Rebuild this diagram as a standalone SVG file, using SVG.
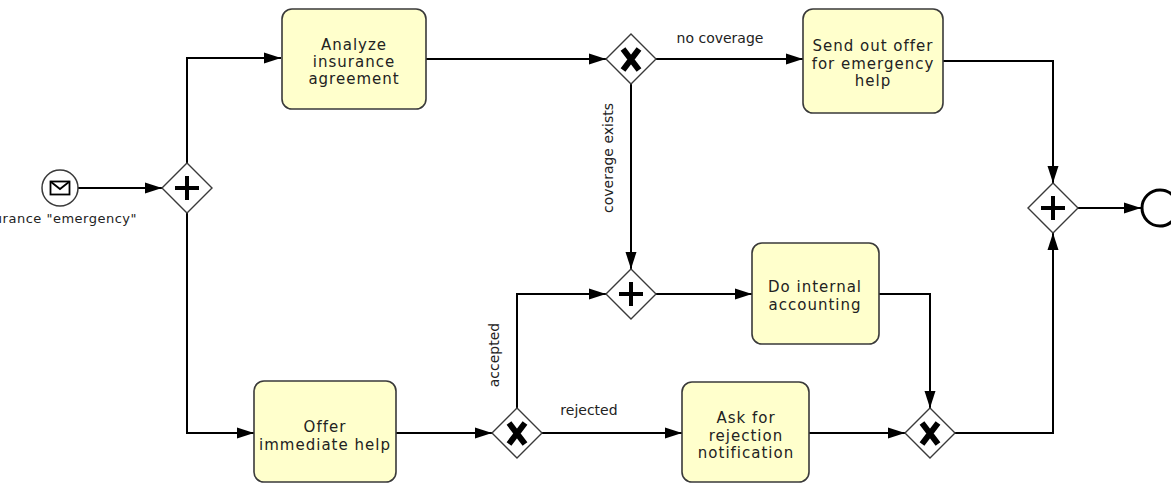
<svg xmlns="http://www.w3.org/2000/svg" width="1171" height="483" viewBox="0 0 1171 483">
<style>
.task{fill:#ffffcc;stroke:#3a3a3a;stroke-width:1.6}
.gw{fill:#ffffff;stroke:#3a3a3a;stroke-width:1.4}
.mk{stroke:#000;stroke-width:4;fill:none}
.xk{stroke:#000;stroke-width:6;fill:none}
.edge{fill:none;stroke:#000;stroke-width:2;marker-end:url(#arr)}
.tt{font-family:"DejaVu Sans",Verdana,sans-serif;font-size:15px;letter-spacing:1px;fill:#222;text-anchor:middle}
.el{font-family:"DejaVu Sans",Verdana,sans-serif;font-size:14px;fill:#222;text-anchor:middle}
</style>
<defs>
<marker id="arr" markerUnits="userSpaceOnUse" markerWidth="18" markerHeight="12" refX="17" refY="6" orient="auto">
<path d="M0,0.5 L17,6 L0,11.5 z" fill="#000"/>
</marker>
</defs>
<rect width="1171" height="483" fill="#fff"/>

<g id="connectors">
<path class="edge" d="M78,188 L162,188"/>
<path class="edge" d="M187,163 L187,58 L281,58"/>
<path class="edge" d="M187,213 L187,433 L254,433"/>
<path class="edge" d="M426,59 L606,59"/>
<path class="edge" d="M656,59 L803,59"/>
<path class="edge" d="M943,61 L1053,61 L1053,183"/>
<path class="edge" d="M1078,208 L1141,208"/>
<path class="edge" d="M631,84 L631,269"/>
<path class="edge" d="M656,294 L752,294"/>
<path class="edge" d="M879,294 L930,294 L930,408"/>
<path class="edge" d="M396,433 L492,433"/>
<path class="edge" d="M517,408 L517,294 L606,294"/>
<path class="edge" d="M542,433 L682,433"/>
<path class="edge" d="M809,433 L905,433"/>
<path class="edge" d="M955,433 L1053,433 L1053,233"/>
<text class="el" x="720" y="43">no coverage</text>
<text class="el" transform="translate(613,158) rotate(-90)">coverage exists</text>
<text class="el" transform="translate(499,355) rotate(-90)">accepted</text>
<text class="el" x="589" y="415">rejected</text>
</g>

<g id="start">
<circle cx="60" cy="188" r="18" fill="#fff" stroke="#3a3a3a" stroke-width="1.5"/>
<rect x="50.5" y="181.5" width="19" height="13" fill="#fff" stroke="#000" stroke-width="1.8"/>
<path d="M50.5,181.5 L60,189 L69.5,181.5" fill="none" stroke="#000" stroke-width="1.8"/>
<text x="137" y="223" style="font-family:'DejaVu Sans',Verdana,sans-serif;font-size:13px;letter-spacing:0.5px;fill:#222;text-anchor:end">urance "emergency"</text>
</g>

<g id="split">
<path class="gw" d="M187,163 L212,188 L187,213 L162,188 z"/>
<path class="mk" d="M175,188 H199 M187,176 V200"/>
</g>

<g id="analyze">
<rect class="task" x="282" y="9" width="144" height="100" rx="10"/>
<text class="tt" x="354" y="50">Analyze</text>
<text class="tt" x="354" y="67">insurance</text>
<text class="tt" x="354" y="84">agreement</text>
</g>

<g id="xor1">
<path class="gw" d="M631,34 L656,59 L631,84 L606,59 z"/>
<path class="xk" d="M623,49 L639,70 M639,49 L623,70"/>
</g>

<g id="sendoffer">
<rect class="task" x="803" y="9" width="140" height="104" rx="10"/>
<text class="tt" x="873" y="51">Send out offer</text>
<text class="tt" x="873" y="68.5">for emergency</text>
<text class="tt" x="873" y="86">help</text>
</g>

<g id="join">
<path class="gw" d="M1053,183 L1078,208 L1053,233 L1028,208 z"/>
<path class="mk" d="M1041,208 H1065 M1053,196 V220"/>
</g>

<g id="end">
<circle cx="1160" cy="208" r="18" fill="#fff" stroke="#000" stroke-width="3"/>
</g>

<g id="and2">
<path class="gw" d="M631,269 L656,294 L631,319 L606,294 z"/>
<path class="mk" d="M619,294 H643 M631,282 V306"/>
</g>

<g id="accounting">
<rect class="task" x="752" y="243" width="127" height="101" rx="10"/>
<text class="tt" x="815" y="292">Do internal</text>
<text class="tt" x="815" y="310">accounting</text>
</g>

<g id="offer">
<rect class="task" x="254" y="381" width="142" height="101" rx="10"/>
<text class="tt" x="325" y="432">Offer</text>
<text class="tt" x="325" y="450">immediate help</text>
</g>

<g id="xor2">
<path class="gw" d="M517,408 L542,433 L517,458 L492,433 z"/>
<path class="xk" d="M509,423 L525,444 M525,423 L509,444"/>
</g>

<g id="reject">
<rect class="task" x="682" y="382" width="127" height="100" rx="10"/>
<text class="tt" x="746" y="423">Ask for</text>
<text class="tt" x="746" y="441">rejection</text>
<text class="tt" x="746" y="458">notification</text>
</g>

<g id="xor3">
<path class="gw" d="M930,408 L955,433 L930,458 L905,433 z"/>
<path class="xk" d="M922,423 L938,444 M938,423 L922,444"/>
</g>
</svg>
